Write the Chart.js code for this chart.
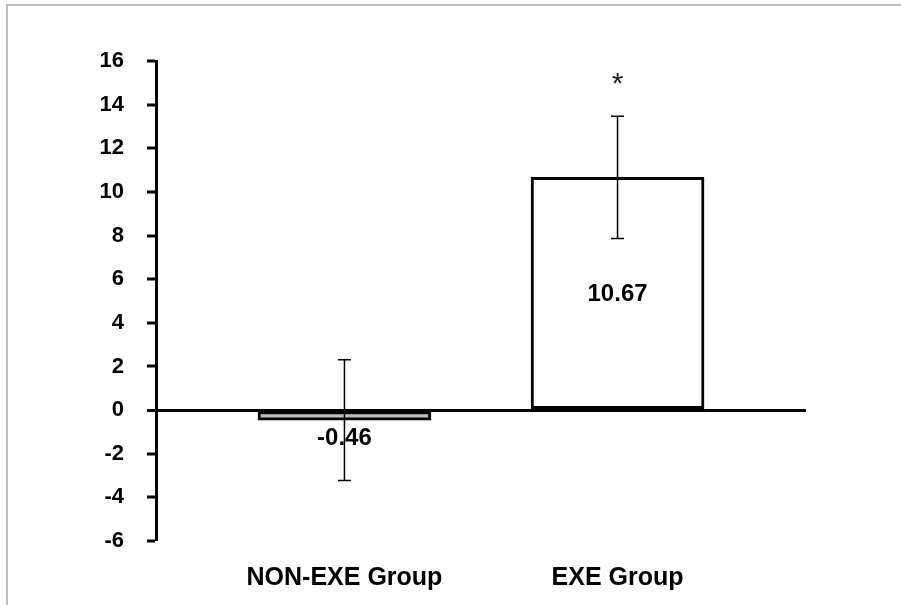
<!DOCTYPE html>
<html>
<head>
<meta charset="utf-8">
<script src="https://cdn.jsdelivr.net/npm/chart.js@4/dist/chart.umd.min.js"></script>
<style>
  html, body { margin: 0; padding: 0; background: #fff; }
  #wrap { position: relative; width: 901px; height: 605px; }
  #frame {
    position: absolute; left: 6px; top: 4px; right: 0; bottom: 0;
    border-top: 2px solid #bdbdbd; border-left: 2px solid #bdbdbd;
    pointer-events: none;
  }
</style>
</head>
<body>
<div id="wrap">
  <canvas id="chart"></canvas>
  <div id="frame"></div>
</div>
<script>
// data
const groups = ['NON-EXE Group', 'EXE Group'];
const means = [-0.46, 10.67];
const errors = [2.77, 2.8];
const barColors = ['#c0c0c0', '#ffffff'];
const marks = ['', '*'];
const yTicksMin = -6;
const yTicksMax = 16;

const FONT = '"Liberation Sans", Arial, sans-serif';

// error bars, value labels and the significance star
const extras = {
  id: 'extras',
  afterDatasetsDraw(chart) {
    const { ctx, scales: { x, y } } = chart;
    const meta = chart.getDatasetMeta(0);
    ctx.save();
    ctx.strokeStyle = '#000';
    ctx.lineWidth = 1.5;
    means.forEach((m, i) => {
      const px = x.getPixelForValue(i);
      const top = y.getPixelForValue(m + errors[i]);
      const bot = y.getPixelForValue(m - errors[i]);
      ctx.beginPath();
      ctx.moveTo(px, top); ctx.lineTo(px, bot);
      ctx.moveTo(px - 6.5, top); ctx.lineTo(px + 6.5, top);
      ctx.moveTo(px - 6.5, bot); ctx.lineTo(px + 6.5, bot);
      ctx.stroke();

      // value label
      const bar = meta.data[i];
      ctx.fillStyle = '#000';
      ctx.font = 'bold 24px ' + FONT;
      ctx.textAlign = 'center';
      ctx.textBaseline = 'middle';
      const ly = m >= 0 ? (bar.y + bar.base) / 2 + 1 : bar.y + 18;
      ctx.fillText(m.toFixed(2), px, ly);

      if (marks[i]) {
        ctx.font = '30px ' + FONT;
        ctx.textBaseline = 'alphabetic';
        ctx.fillStyle = '#222';
        ctx.fillText(marks[i], px, top - 23);
      }
    });
    ctx.restore();
  }
};

new Chart(document.getElementById('chart'), {
  type: 'bar',
  data: {
    datasets: [{
      data: groups.map((g, i) => ({ x: i, y: means[i] })),
      backgroundColor: barColors,
      borderColor: '#000',
      borderWidth: 3,
      borderSkipped: false,
      barThickness: 173
    }]
  },
  options: {
    responsive: true,
    maintainAspectRatio: false,
    animation: false,
    layout: { padding: { left: 10, top: 61, right: 95, bottom: 10 } },
    plugins: {
      legend: { display: false },
      tooltip: { enabled: false }
    },
    scales: {
      x: {
        type: 'linear',
        offset: false,
        min: -0.69,
        max: 1.69,
        afterBuildTicks: scale => { scale.ticks = groups.map((g, i) => ({ value: i })); },
        afterFit: scale => { scale.height = 54; },
        ticks: {
          callback: (v, i) => groups[i],
          color: '#000',
          font: { family: FONT, size: 25, weight: 'bold' },
          padding: 14,
          maxRotation: 0
        },
        grid: { display: false, offset: false },
        border: { display: false }
      },
      y: {
        min: yTicksMin,
        max: yTicksMax,
        afterFit: scale => { scale.width = 146; },
        ticks: {
          stepSize: 2,
          color: '#000',
          font: { family: FONT, size: 22, weight: 'bold' },
          padding: 23
        },
        grid: {
          color: ctx => (ctx.tick && ctx.tick.value === 0 ? '#000' : 'rgba(0,0,0,0)'),
          lineWidth: ctx => (ctx.tick && ctx.tick.value === 0 ? 3 : 0),
          tickColor: '#000',
          tickWidth: 3,
          tickLength: 9
        },
        border: { display: true, color: '#000', width: 3 }
      }
    }
  },
  plugins: [extras]
});
</script>
</body>
</html>
